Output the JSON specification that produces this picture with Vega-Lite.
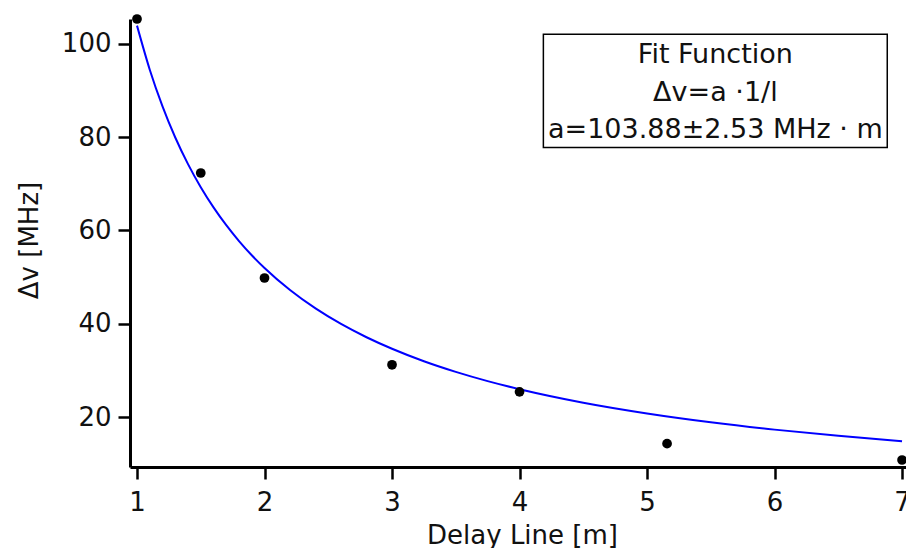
{
  "$schema": "https://vega.github.io/schema/vega-lite/v6.json",
  "autosize": "none",
  "width": 776,
  "height": 448,
  "padding": {"left": 130, "top": 19, "right": 0, "bottom": 81},
  "background": "white",
  "config": {
    "view": {"stroke": null},
    "font": "DejaVu Sans",
    "axis": {
      "domainColor": "black",
      "domainWidth": 3,
      "tickColor": "black",
      "tickWidth": 2.5,
      "tickSize": 12,
      "grid": false,
      "labelFont": "DejaVu Sans",
      "labelFontSize": 26,
      "labelColor": "#111",
      "titleFont": "DejaVu Sans",
      "titleFontSize": 26,
      "titleFontWeight": "normal",
      "titleColor": "#111"
    }
  },
  "datasets": {
    "points": [
      {"length": 1, "dv": 105.3},
      {"length": 1.5, "dv": 72.3},
      {"length": 2, "dv": 49.8},
      {"length": 3, "dv": 31.2},
      {"length": 4, "dv": 25.4},
      {"length": 5.157, "dv": 14.3},
      {"length": 7, "dv": 10.8}
    ],
    "fit": [
      {"length": 1.0, "dv": 103.88},
      {"length": 1.1, "dv": 94.44},
      {"length": 1.2, "dv": 86.57},
      {"length": 1.3, "dv": 79.91},
      {"length": 1.4, "dv": 74.2},
      {"length": 1.5, "dv": 69.25},
      {"length": 1.6, "dv": 64.93},
      {"length": 1.7, "dv": 61.11},
      {"length": 1.8, "dv": 57.71},
      {"length": 1.9, "dv": 54.67},
      {"length": 2.0, "dv": 51.94},
      {"length": 2.2, "dv": 47.22},
      {"length": 2.4, "dv": 43.28},
      {"length": 2.6, "dv": 39.95},
      {"length": 2.8, "dv": 37.1},
      {"length": 3.0, "dv": 34.63},
      {"length": 3.25, "dv": 31.96},
      {"length": 3.5, "dv": 29.68},
      {"length": 3.75, "dv": 27.7},
      {"length": 4.0, "dv": 25.97},
      {"length": 4.5, "dv": 23.08},
      {"length": 5.0, "dv": 20.78},
      {"length": 5.5, "dv": 18.89},
      {"length": 6.0, "dv": 17.31},
      {"length": 6.5, "dv": 15.98},
      {"length": 7.0, "dv": 14.84}
    ]
  },
  "layer": [
    {
      "data": {"name": "fit"},
      "mark": {"type": "line", "color": "#0000ff", "strokeWidth": 2, "interpolate": "monotone"},
      "encoding": {
        "x": {
          "field": "length", "type": "quantitative",
          "scale": {"domain": [0.945, 7.031], "nice": false, "zero": false},
          "axis": {
            "title": "Delay Line [m]",
            "values": [1, 2, 3, 4, 5, 6, 7],
            "format": "d",
            "tickSize": 12,
            "labelPadding": 10,
            "titleX": 392,
            "titleY": 76,
            "titleBaseline": "alphabetic"
          }
        },
        "y": {
          "field": "dv", "type": "quantitative",
          "scale": {"domain": [9.3, 105.3], "nice": false, "zero": false},
          "axis": {
            "title": "Δv [MHz]",
            "values": [20, 40, 60, 80, 100],
            "tickSize": 12,
            "labelPadding": 7,
            "titleAngle": -90,
            "titleX": -93,
            "titleY": 221,
            "titleAlign": "center",
            "titleBaseline": "alphabetic"
          }
        }
      }
    },
    {
      "data": {"name": "points"},
      "mark": {"type": "circle", "color": "black", "opacity": 1, "size": 95},
      "encoding": {
        "x": {"field": "length", "type": "quantitative"},
        "y": {"field": "dv", "type": "quantitative"}
      }
    },
    {
      "data": {"values": [{}]},
      "mark": {"type": "rect", "fill": "white", "stroke": "black", "strokeWidth": 1.5},
      "encoding": {
        "x": {"datum": 4.187, "type": "quantitative"},
        "x2": {"datum": 6.884},
        "y": {"datum": 102.04, "type": "quantitative"},
        "y2": {"datum": 77.79}
      }
    },
    {
      "data": {"values": [{}]},
      "mark": {
        "type": "text",
        "font": "DejaVu Sans",
        "fontSize": 27,
        "color": "#111",
        "align": "center",
        "baseline": "middle",
        "lineHeight": 37.5
      },
      "encoding": {
        "x": {"datum": 5.536, "type": "quantitative"},
        "y": {"datum": 97.53, "type": "quantitative"},
        "text": {"value": ["Fit Function", "Δv=a  ·1/l", "a=103.88±2.53 MHz · m"]}
      }
    }
  ]
}
